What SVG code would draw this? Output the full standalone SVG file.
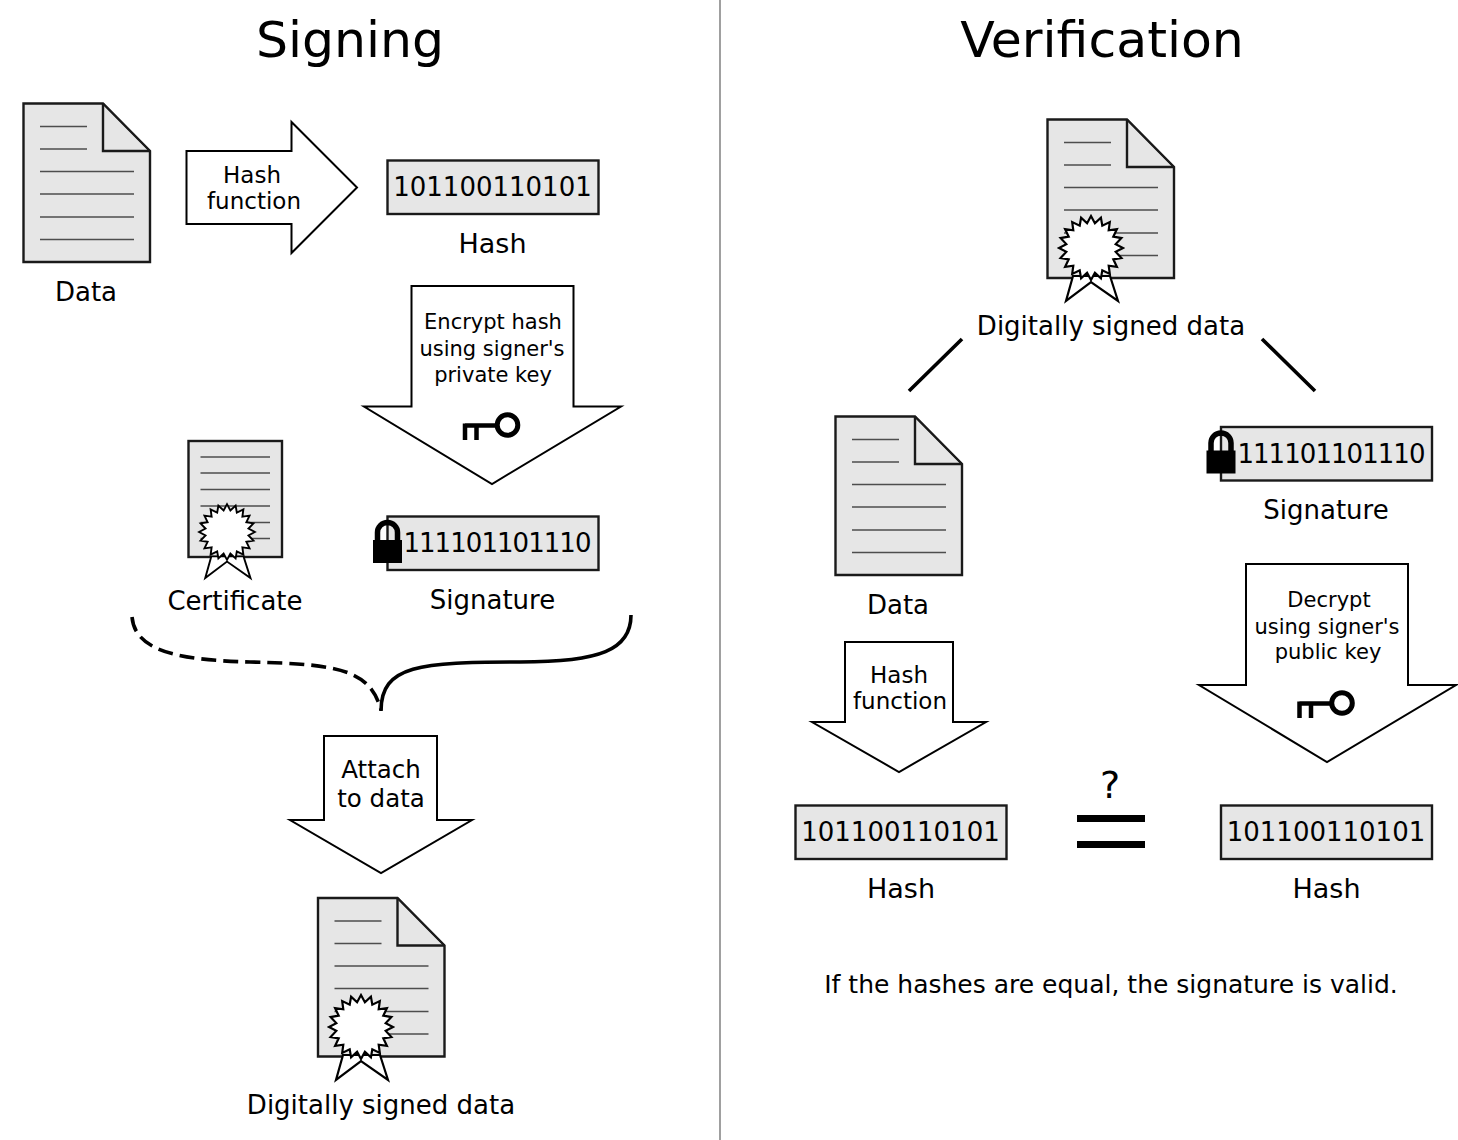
<svg xmlns="http://www.w3.org/2000/svg" width="1458" height="1140" viewBox="0 0 1458 1140">
<style>
text{font-family:"DejaVu Sans",sans-serif;fill:#000;text-anchor:middle}
.title{font-size:50.5px}
.label{font-size:26px}
.hashlabel{font-size:27px}
.arrowtext{font-size:23px}
.keytext{font-size:21px}
.attach{font-size:24.5px}
.note{font-size:25px}
.bits{font-size:26px}
.sigbits{font-size:26px;letter-spacing:-.95px}
.arrow{fill:#fff;stroke:#000;stroke-width:2;stroke-linejoin:miter}
.paper{fill:#e6e6e6;stroke:#1a1a1a;stroke-width:2.4;stroke-linejoin:miter}
.rule{stroke:#4d4d4d;stroke-width:1.6;fill:none}
.seal{fill:#fff;stroke:#000;stroke-width:2.2;stroke-linejoin:miter}
.conn{fill:none;stroke:#000;stroke-width:3.6}
</style>
<defs>
<g id="doc">
<path class="paper" d="M0,0H79.5L126.5,47.5V158.5H0Z"/>
<path class="paper" style="stroke-width:1.2" d="M79.5,0L126.5,47.5"/>
<path class="paper" style="fill:none" d="M79.5,0V47.5H126.5"/>
<path class="rule" d="M16.5,23H63.500M16.5,45.500H63.5M16.5,68H110.5M16.5,90.500H110.500M16.5,113.500H110.5M16.500,136H110.5"/>
</g>
<g id="seal">
<path class="seal" d="M-18,28L-25,53L0,34L27,53L19,28Z"/>
<polygon class="seal" points="32,0 24.700,3.900 30.400,9.900 22.300,11.300 25.900,18.800 17.700,17.700 18.800,25.900 11.300,22.300 9.900,30.400 3.900,24.700 0,32 -3.900,24.700 -9.900,30.400 -11.300,22.300 -18.800,25.900 -17.700,17.700 -25.900,18.800 -22.300,11.300 -30.400,9.900 -24.700,3.900 -32,0 -24.700,-3.900 -30.400,-9.900 -22.300,-11.300 -25.900,-18.800 -17.700,-17.700 -18.800,-25.900 -11.300,-22.300 -9.900,-30.400 -3.900,-24.700 0,-32 3.900,-24.700 9.900,-30.400 11.300,-22.300 18.800,-25.900 17.700,-17.700 25.900,-18.800 22.300,-11.300 30.400,-9.900 24.700,-3.900"/>
</g>
<g id="key">
<circle cx="0" cy="0" r="10.300" fill="none" stroke="#000" stroke-width="5"/>
<path fill="none" stroke="#000" stroke-width="4.500" d="M-10,0.500H-42.500M-42.500,-1.500V15M-31,0V15"/>
</g>
<g id="lock">
<path fill="none" stroke="#000" stroke-width="5.500" d="M-10,20V10.500a10,10 0 0 1 20,0V20"/>
<rect x="-14.500" y="18" width="29" height="23"/>
</g>
<rect id="bitbox" class="paper" width="211" height="53.500"/>
</defs>

<rect width="1458" height="1140" fill="#fff"/>
<path d="M720,0V1140" stroke="#888" stroke-width="1.600"/>
<text class="title" x="350" y="57">Signing</text>
<text class="title" x="1102" y="57">Verification</text>

<g id="connectors">
<path class="conn" stroke-dasharray="15 7" d="M132,617C135,650 175,660 250,662C340,664 370,670 381,710"/>
<path class="conn" d="M631,615C631,650 600,662 520,662C420,662 381,665 381,711"/>
<path class="conn" d="M962,339L909,391M1262,339L1315,391"/>
</g>

<g id="s-data"><use href="#doc" x="23.500" y="103.500"/><text class="label" x="86" y="301">Data</text></g>
<g id="s-hash-arrow"><polygon class="arrow" points="186.500,151 291.500,151 291.500,122 357,187.500 291.500,253 291.500,224 186.500,224"/>
<text class="arrowtext" x="252" y="183">Hash</text><text class="arrowtext" x="254" y="209">function</text></g>
<g id="s-hash"><use href="#bitbox" x="387.500" y="160.500"/><text class="bits" x="492.500" y="196">101100110101</text><text class="hashlabel" x="492.500" y="253">Hash</text></g>
<g id="s-encrypt-arrow"><polygon class="arrow" points="411.500,286 573.500,286 573.500,406.500 621,406.500 492,484 364,406.500 411.500,406.500"/>
<text class="keytext" x="493" y="329">Encrypt hash</text><text class="keytext" x="492" y="356">using signer's</text><text class="keytext" x="493" y="382">private key</text>
<use href="#key" x="507.500" y="425"/></g>
<g id="s-certificate"><rect class="paper" x="188.500" y="441" width="93.500" height="116"/>
<path class="rule" d="M200.500,457H270M200.500,473H270M200.500,489.500H270M200.500,506H270M200.500,522.500H270M200.500,538.500H270"/>
<use href="#seal" transform="translate(227 532) scale(.87)"/>
<text class="label" x="235" y="610">Certificate</text></g>
<g id="s-signature"><use href="#bitbox" x="387.500" y="516.500"/><use href="#lock" x="387.500" y="522"/><text class="sigbits" x="497" y="552">111101101110</text><text class="label" x="492.500" y="609">Signature</text></g>
<g id="s-attach-arrow"><polygon class="arrow" points="324,736 437,736 437,820 472,820 381,873 290,820 324,820"/>
<text class="attach" x="381" y="778">Attach</text><text class="attach" x="381" y="807">to data</text></g>
<g id="s-signed"><use href="#doc" x="318" y="898"/><use href="#seal" x="361" y="1027"/><text class="label" x="381" y="1114">Digitally signed data</text></g>

<g id="v-signed"><use href="#doc" x="1047.500" y="119.500"/><use href="#seal" x="1091" y="248"/><text class="label" x="1111" y="335">Digitally signed data</text></g>
<g id="v-data"><use href="#doc" x="835.500" y="416.500"/><text class="label" x="898" y="614">Data</text></g>
<g id="v-signature"><use href="#bitbox" x="1221" y="427"/><use href="#lock" x="1221" y="432.500"/><text class="sigbits" x="1331" y="463">111101101110</text><text class="label" x="1326" y="519">Signature</text></g>
<g id="v-hash-arrow"><polygon class="arrow" points="845,642 953,642 953,722 986,722 899,772 812,722 845,722"/>
<text class="arrowtext" x="899" y="683">Hash</text><text class="arrowtext" x="900" y="709">function</text></g>
<g id="v-decrypt-arrow"><polygon class="arrow" points="1246,564 1408,564 1408,685 1456,685 1327,762 1199,685 1246,685"/>
<text class="keytext" x="1329" y="607">Decrypt</text><text class="keytext" x="1327" y="634">using signer's</text><text class="keytext" x="1328" y="659">public key</text>
<use href="#key" x="1342" y="703"/></g>
<g id="v-hash-left"><use href="#bitbox" x="795.500" y="805.500"/><text class="bits" x="900.500" y="841">101100110101</text><text class="hashlabel" x="901" y="898">Hash</text></g>
<g id="v-equals"><text x="1110" y="798" style="font-size:38px">?</text><rect x="1077" y="815" width="68" height="7"/><rect x="1077" y="841" width="68" height="7"/></g>
<g id="v-hash-right"><use href="#bitbox" x="1221" y="805.500"/><text class="bits" x="1326" y="841">101100110101</text><text class="hashlabel" x="1326.500" y="898">Hash</text></g>
<text class="note" x="1111" y="993">If the hashes are equal, the signature is valid.</text>
</svg>
